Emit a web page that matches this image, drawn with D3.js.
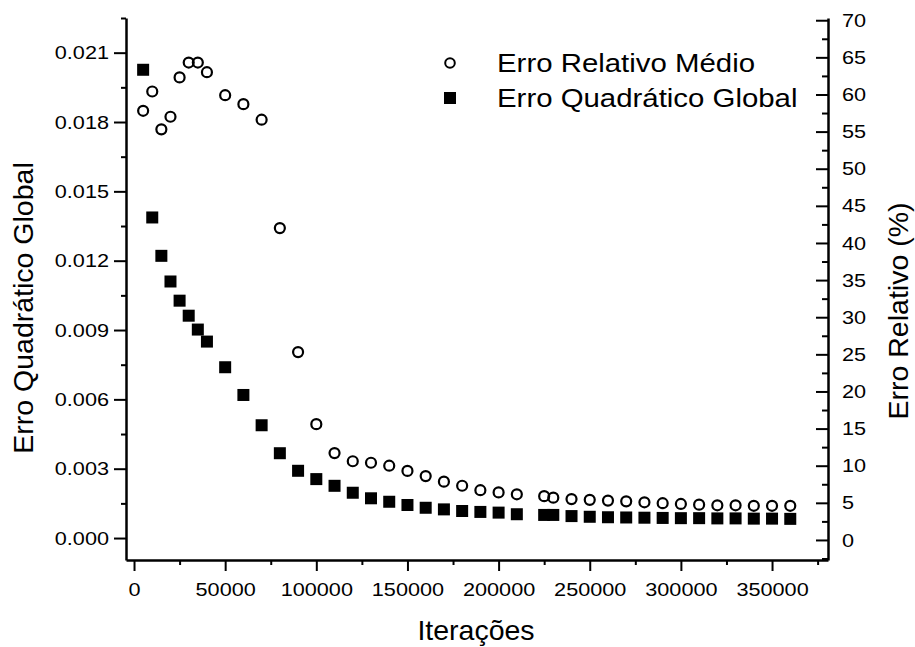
<!DOCTYPE html>
<meta charset="utf-8">
<script src="https://cdn.jsdelivr.net/npm/d3@7"></script>
<style>
  body { margin: 0; background: #fff; }
  text { font-family: "Liberation Sans", Arial, sans-serif; fill: #000; }
</style>
<svg id="chart" width="915" height="647"></svg>
<script>

// iterations (x) shared by both series
const iteracoes = [5000, 10000, 15000, 20000, 25000, 30000, 35000, 40000, 50000, 60000,
  70000, 80000, 90000, 100000, 110000, 120000, 130000, 140000, 150000, 160000,
  170000, 180000, 190000, 200000, 210000, 225000, 230000, 240000, 250000, 260000,
  270000, 280000, 290000, 300000, 310000, 320000, 330000, 340000, 350000, 360000];

// Erro Relativo Médio (%), right axis
const erroRelativo = [57.8, 60.4, 55.3, 57.0, 62.3, 64.3, 64.3, 63.0, 59.9, 58.7,
  56.6, 42.0, 25.3, 15.6, 11.7, 10.6, 10.4, 10.0, 9.3, 8.6,
  7.85, 7.3, 6.7, 6.4, 6.15, 5.9, 5.7, 5.5, 5.4, 5.3,
  5.2, 5.07, 4.95, 4.85, 4.75, 4.67, 4.67, 4.6, 4.6, 4.6];

// Erro Quadrático Global, left axis
const erroQuadratico = [0.02026, 0.01387, 0.01221, 0.01110, 0.01027, 0.00962, 0.00902, 0.00850, 0.00739, 0.00619,
  0.00488, 0.00367, 0.00291, 0.00255, 0.00226, 0.00196, 0.00172, 0.00157, 0.00143, 0.00131,
  0.00124, 0.00117, 0.00113, 0.00110, 0.00103, 0.00100, 0.00100, 0.00095, 0.00092, 0.00090,
  0.00089, 0.00088, 0.00087, 0.00086, 0.00086, 0.00085, 0.00085, 0.00084, 0.00084, 0.00083];

// tick labels
const xTicks = [0, 50000, 100000, 150000, 200000, 250000, 300000, 350000];
const yLeftTicks = [0, 0.003, 0.006, 0.009, 0.012, 0.015, 0.018, 0.021];
const yRightTicks = [0, 5, 10, 15, 20, 25, 30, 35, 40, 45, 50, 55, 60, 65, 70];
const legendLabels = ["Erro Relativo Médio", "Erro Quadrático Global"];

const svg = d3.select("#chart");
const plotLeft = 126, plotRight = 828, plotTop = 18, plotBottom = 560;

const x = d3.scaleLinear().domain([-4400, 380700]).range([plotLeft, plotRight]);
const yL = d3.scaleLinear().domain([-0.00095, 0.0225]).range([plotBottom, plotTop]);
const yR = d3.scaleLinear().domain([-2.7, 70.3]).range([plotBottom, plotTop]);

// stretch text a bit horizontally, like the original figure
function stretch(sel, k) {
  sel.each(function() {
    const w = this.getComputedTextLength();
    d3.select(this).attr("textLength", w * k).attr("lengthAdjust", "spacingAndGlyphs");
  });
}

function styleAxis(g) {
  g.select(".domain").attr("stroke-width", 2.5);
  g.selectAll(".tick line").attr("stroke-width", 2);
  g.selectAll("text").attr("font-size", 19).attr("font-family", null).call(stretch, 1.14);
}

// minor ticks
const xMinor = d3.range(25000, 380000, 50000);
const yLMinor = d3.range(0.0015, 0.0226, 0.003);
const yRMinor = d3.range(-2.5, 70.3, 5);

svg.append("g").attr("transform", `translate(0,${plotBottom})`)
  .call(d3.axisBottom(x).tickValues(xMinor).tickSize(5).tickSizeOuter(0).tickFormat(""))
  .call(g => { g.select(".domain").remove(); g.selectAll("line").attr("stroke-width", 2); });
svg.append("g").attr("transform", `translate(${plotLeft},0)`)
  .call(d3.axisLeft(yL).tickValues(yLMinor).tickSize(5).tickSizeOuter(0).tickFormat(""))
  .call(g => { g.select(".domain").remove(); g.selectAll("line").attr("stroke-width", 2); });
svg.append("g").attr("transform", `translate(${plotRight},0)`)
  .call(d3.axisRight(yR).tickValues(yRMinor).tickSizeInner(-6).tickSizeOuter(0).tickFormat(""))
  .call(g => { g.select(".domain").remove(); g.selectAll("line").attr("stroke-width", 2); });

// main axes
svg.append("g").attr("transform", `translate(0,${plotBottom})`)
  .call(d3.axisBottom(x).tickValues(xTicks).tickSize(11).tickSizeOuter(0).tickPadding(12).tickFormat(d3.format("d")))
  .call(styleAxis);
svg.append("g").attr("transform", `translate(${plotLeft},0)`)
  .call(d3.axisLeft(yL).tickValues(yLeftTicks).tickSize(12).tickSizeOuter(0).tickPadding(5).tickFormat(d3.format(".3f")))
  .call(styleAxis);
svg.append("g").attr("transform", `translate(${plotRight},0)`)
  .call(d3.axisRight(yR).tickValues(yRightTicks).tickSizeInner(-12).tickSizeOuter(0).tickPadding(14).tickFormat(d3.format("d")))
  .call(styleAxis);

// series
const sq = 12;
svg.append("g").selectAll("rect")
  .data(iteracoes)
  .join("rect")
    .attr("x", (d) => x(d) - sq / 2)
    .attr("y", (d, i) => yL(erroQuadratico[i]) - sq / 2)
    .attr("width", sq)
    .attr("height", sq)
    .attr("fill", "#000");

svg.append("g").selectAll("circle")
  .data(iteracoes)
  .join("circle")
    .attr("cx", (d) => x(d))
    .attr("cy", (d, i) => yR(erroRelativo[i]))
    .attr("r", 5)
    .attr("fill", "none")
    .attr("stroke", "#000")
    .attr("stroke-width", 2.2);

// axis titles
svg.append("text")
  .attr("x", 476).attr("y", 640)
  .attr("text-anchor", "middle").attr("font-size", 28.5)
  .text("Iterações");
svg.append("text")
  .attr("transform", "translate(33,308) rotate(-90)")
  .attr("text-anchor", "middle").attr("font-size", 28.5)
  .text("Erro Quadrático Global");
svg.append("text")
  .attr("transform", "translate(908,311) rotate(-90)")
  .attr("text-anchor", "middle").attr("font-size", 28.5)
  .text("Erro Relativo (%)");

// legend
const legend = svg.append("g");
legend.append("circle").attr("cx", 450).attr("cy", 63).attr("r", 4.8)
  .attr("fill", "none").attr("stroke", "#000").attr("stroke-width", 2);
legend.append("rect").attr("x", 444).attr("y", 92).attr("width", 12).attr("height", 12).attr("fill", "#000");
legend.selectAll("text.lbl")
  .data(legendLabels)
  .join("text")
    .attr("class", "lbl")
    .attr("x", 497)
    .attr("y", (d, i) => 72 + i * 35)
    .attr("font-size", 26)
    .text((d) => d)
    .call(stretch, 1.13);

</script>
